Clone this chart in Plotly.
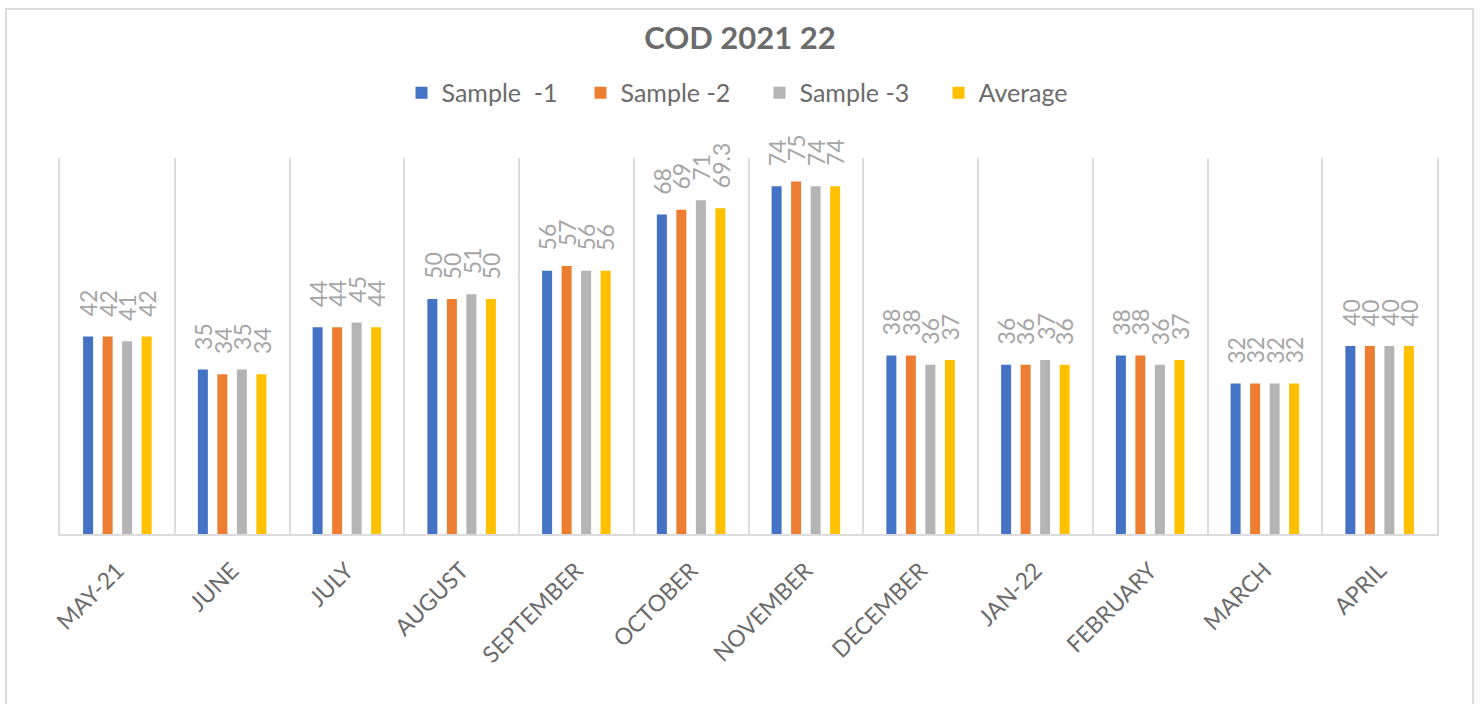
import plotly.graph_objects as go

months = ["MAY-21", "JUNE", "JULY", "AUGUST", "SEPTEMBER", "OCTOBER",
          "NOVEMBER", "DECEMBER", "JAN-22", "FEBRUARY", "MARCH", "APRIL"]
sample1 = [42, 35, 44, 50, 56, 68, 74, 38, 36, 38, 32, 40]
sample2 = [42, 34, 44, 50, 57, 69, 75, 38, 36, 38, 32, 40]
sample3 = [41, 35, 45, 51, 56, 71, 74, 36, 37, 36, 32, 40]
average = [42, 34, 44, 50, 56, 69.3, 74, 37, 36, 37, 32, 40]
label_avg = ["42", "34", "44", "50", "56", "69.3", "74", "37", "36", "37", "32", "40"]

series = [
    ("Sample  -1", sample1, "#4472C4"),
    ("Sample -2", sample2, "#ED7D31"),
    ("Sample -3", sample3, "#B4B4B4"),
    ("Average", average, "#FFC000"),
]

FONT = "Lato"
fig = go.Figure()
for name, vals, col in series:
    fig.add_trace(go.Bar(x=months, y=vals, name=name, marker_color=col,
                         marker_line_width=0))

# data labels (rotated), placed above each bar
slot = 19.5
annotations = []
for j, (name, vals, col) in enumerate(series):
    for i, v in enumerate(vals):
        txt = label_avg[i] if name == "Average" else f"{v:g}"
        annotations.append(dict(
            x=months[i], y=v, xref="x", yref="y", text=txt, showarrow=False,
            textangle=-90, xanchor="center", yanchor="bottom",
            xshift=(j - 1.5) * slot, yshift=18,
            font=dict(family=FONT, size=23, color="#A6A6A6")))

fig.update_layout(
    width=1480, height=704,
    paper_bgcolor="white", plot_bgcolor="white",
    margin=dict(l=60, r=43, t=158, b=170),
    barmode="group", bargap=0.32, bargroupgap=0.487,
    title=dict(text="<b>COD 2021 22</b>", x=0.5, xanchor="center",
               y=0.946, yanchor="middle",
               font=dict(family=FONT, size=31, color="#6B6B6B")),
    legend=dict(orientation="h", x=0.508, xanchor="center", y=0.868, yref="container",
                yanchor="middle", font=dict(family=FONT, size=25, color="#6B6B6B"),
                itemwidth=30, traceorder="normal",
                entrywidth=134, entrywidthmode="pixels"),
    annotations=annotations,
    showlegend=True,
    xaxis=dict(type="category", tickson="boundaries", showgrid=True,
               gridcolor="#DCDCDC", gridwidth=2, showline=True,
               linecolor="#DCDCDC", linewidth=2, ticks="",
               tickangle=-45, ticklabelstandoff=12,
               tickfont=dict(family=FONT, size=23, color="#6B6B6B")),
    yaxis=dict(range=[0, 80], showgrid=False, zeroline=False,
               showline=True, mirror=True, linecolor="#DCDCDC", linewidth=2,
               showticklabels=False, ticks=""),
    shapes=[dict(type="rect", xref="paper", yref="paper",
                 x0=-0.0392, x1=1.0261, y0=-0.46, y1=1.396,
                 line=dict(color="#DCDCDC", width=2), fillcolor="rgba(0,0,0,0)",
                 layer="below")],
)

fig.write_html("out.html", config={"displayModeBar": False},
               post_script="document.body.style.margin='0px';")
